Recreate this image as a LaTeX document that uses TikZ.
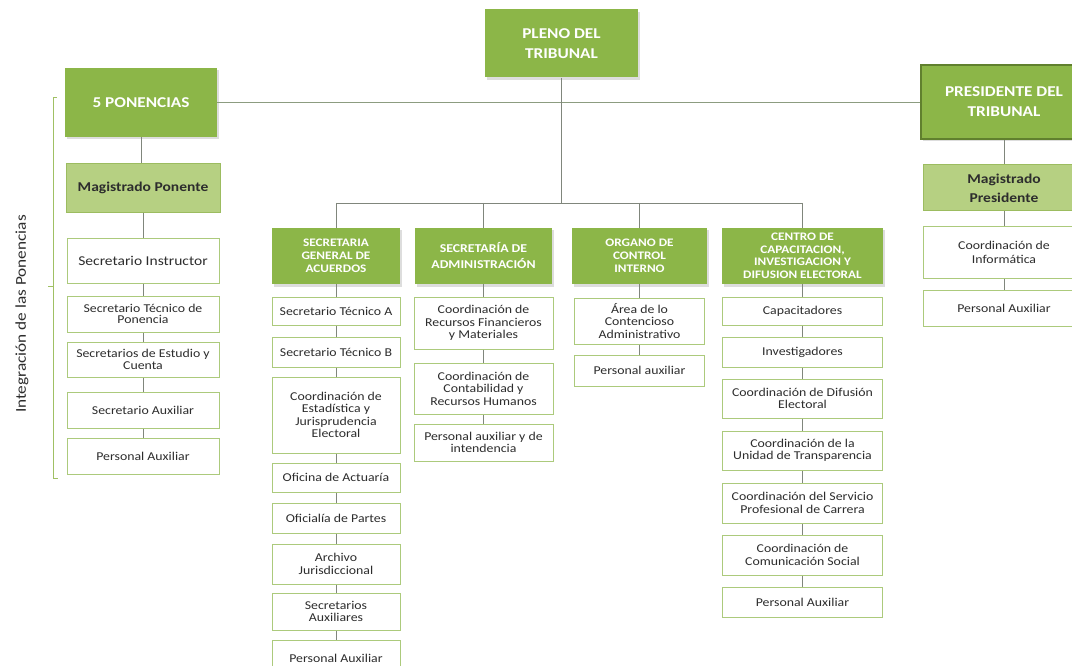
\documentclass[tikz,border=0pt]{standalone}
\usepackage{fontspec}
\setmainfont{Carlito}[FakeStretch=1.15]
\usetikzlibrary{shadows}
\definecolor{dkgreen}{RGB}{140,182,72}
\definecolor{ltgreen}{RGB}{182,208,130}
\definecolor{mgborder}{RGB}{156,188,96}
\definecolor{presborder}{RGB}{96,128,46}
\definecolor{wborder}{RGB}{172,202,124}
\definecolor{connc}{RGB}{128,134,124}
\definecolor{hlinec}{RGB}{140,156,128}
\definecolor{bracketc}{RGB}{160,192,100}
\definecolor{txtc}{RGB}{45,45,45}
\newcommand\myfs[2]{\fontsize{#1}{#2}\selectfont}
\begin{document}
\begin{tikzpicture}[x=1pt,y=-1pt,
  every node/.style={inner sep=0pt, align=center},
  softshadow/.style={drop shadow={shadow xshift=1.5pt, shadow yshift=-2.5pt, opacity=0.22, fill=black!60}},
  topbox/.style={fill=dkgreen, text=white, font=\bfseries\myfs{15}{20}, softshadow},
  colhdr/.style={fill=dkgreen, text=white, font=\bfseries\myfs{11.5}{13}, softshadow},
  magbox/.style={fill=ltgreen, draw=mgborder, line width=1pt, text=txtc, font=\bfseries\myfs{13.5}{19}},
  wbox/.style={fill=white, draw=wborder, line width=1pt, text=txtc, font=\myfs{12}{12.5}},
  conn/.style={draw=connc, line width=0.9pt},
  hline/.style={draw=hlinec, line width=1.3pt}
]
\useasboundingbox (0,0) rectangle (1072,666);
\fill[white] (0,0) rectangle (1072,666);

% top level
\node[topbox, minimum width=153, minimum height=68] (pleno) at (561.5,43.5) {PLENO DEL\\TRIBUNAL};
\node[topbox, minimum width=152, minimum height=69] (pon) at (141,102.5) {5 PONENCIAS};
\node[topbox, draw=presborder, line width=2.2pt, minimum width=166, minimum height=74] (pres) at (1004,102) {PRESIDENTE DEL\\TRIBUNAL};

% left column (ponencias)
\node[magbox, minimum width=154, minimum height=49] (magpon) at (143,188) {Magistrado Ponente};
\node[wbox, font=\myfs{13.5}{14}, minimum width=152, minimum height=44] (si) at (143,261) {Secretario Instructor};
\node[wbox, font=\myfs{12}{11.5}, minimum width=152, minimum height=36] (stp) at (143,314) {Secretario Técnico de\\Ponencia};
\node[wbox, font=\myfs{12}{11.5}, minimum width=152, minimum height=35] (sec) at (143,359.5) {Secretarios de Estudio y\\Cuenta};
\node[wbox, minimum width=152, minimum height=36] (saux) at (143,410) {Secretario Auxiliar};
\node[wbox, minimum width=152, minimum height=36] (pa1) at (143,456) {Personal Auxiliar};

% bracket and label
\coordinate (bt) at (53,98);
\coordinate (bb) at (53,478);
\coordinate (bm) at (53,286);
\draw[draw=bracketc, line width=1pt] ([xshift=4]bt) -- (bt) -- (bb) -- ([xshift=5]bb);
\draw[draw=bracketc, line width=1pt] (bm) -- ([xshift=-5]bm);
\node[rotate=90, text=txtc, font=\myfs{15}{18}] (lbl) at (22,314) {Integración de las Ponencias};

% column headers
\node[colhdr, minimum width=128, minimum height=56] (sga) at (336,256) {SECRETARIA\\GENERAL DE\\ACUERDOS};
\node[colhdr, font=\bfseries\myfs{12}{16}, minimum width=137, minimum height=56] (sadm) at (483.5,256) {SECRETARÍA DE\\ADMINISTRACIÓN};
\node[colhdr, minimum width=135, minimum height=56] (oci) at (639.5,256) {ORGANO DE\\CONTROL\\INTERNO};
\node[colhdr, font=\bfseries\myfs{11.5}{12.5}, minimum width=161, minimum height=56] (cc) at (802.5,256) {CENTRO DE\\CAPACITACION,\\INVESTIGACION Y\\DIFUSION ELECTORAL};

% Secretaria General de Acuerdos
\node[wbox, minimum width=128, minimum height=28] (sta) at (336,311) {Secretario Técnico A};
\node[wbox, minimum width=128, minimum height=30] (stb) at (336,352) {Secretario Técnico B};
\node[wbox, minimum width=128, minimum height=76] (cej) at (336,415) {Coordinación de\\Estadística y\\Jurisprudencia\\Electoral};
\node[wbox, minimum width=128, minimum height=29] (oa) at (336,477.5) {Oficina de Actuaría};
\node[wbox, minimum width=128, minimum height=30] (op) at (336,518) {Oficialía de Partes};
\node[wbox, minimum width=128, minimum height=40] (aj) at (336,564) {Archivo\\Jurisdiccional};
\node[wbox, minimum width=128, minimum height=37] (secx) at (336,611.5) {Secretarios\\Auxiliares};
\node[wbox, minimum width=128, minimum height=36] (pasg) at (336,658) {Personal Auxiliar};

% Secretaria de Administracion
\node[wbox, minimum width=139, minimum height=52] (crf) at (483.5,323) {Coordinación de\\Recursos Financieros\\y Materiales};
\node[wbox, minimum width=139, minimum height=51] (ccr) at (483.5,388.5) {Coordinación de\\Contabilidad y\\Recursos Humanos};
\node[wbox, minimum width=139, minimum height=37] (pai) at (483.5,442.5) {Personal auxiliar y de\\intendencia};

% Organo de Control Interno
\node[wbox, minimum width=130, minimum height=46] (acont) at (639.5,321) {Área de lo\\Contencioso\\Administrativo};
\node[wbox, minimum width=130, minimum height=31] (paoci) at (639.5,370.5) {Personal auxiliar};

% Centro de Capacitacion
\node[wbox, minimum width=160, minimum height=28] (cap) at (802.5,311) {Capacitadores};
\node[wbox, minimum width=160, minimum height=30] (inv) at (802.5,352) {Investigadores};
\node[wbox, minimum width=160, minimum height=39] (cde) at (802.5,398.5) {Coordinación de Difusión\\Electoral};
\node[wbox, minimum width=160, minimum height=39] (cut) at (802.5,450.5) {Coordinación de la\\Unidad de Transparencia};
\node[wbox, minimum width=160, minimum height=40] (csp) at (802.5,503) {Coordinación del Servicio\\Profesional de Carrera};
\node[wbox, minimum width=160, minimum height=40] (ccs) at (802.5,555) {Coordinación de\\Comunicación Social};
\node[wbox, minimum width=160, minimum height=30] (pacc) at (802.5,602) {Personal Auxiliar};

% Presidente column
\node[magbox, minimum width=162, minimum height=46] (magpres) at (1004,188) {Magistrado\\Presidente};
\node[wbox, font=\myfs{12}{14}, minimum width=162, minimum height=51] (cinf) at (1004,252.5) {Coordinación de\\Informática};
\node[wbox, minimum width=162, minimum height=36] (papres) at (1004,308) {Personal Auxiliar};

% connectors
\coordinate (busy) at (0,203);
\draw[hline] (pon.east) -- (pres.west |- pon.east);
\draw[conn] (pleno.south) -- (pleno.south |- busy);
\draw[conn] (sga.north |- busy) -- (cc.north |- busy);
\foreach \n in {sga,sadm,oci,cc} \draw[conn] (\n.north |- busy) -- (\n.north);
\draw[conn] (pon.south) -- (pon.south |- magpon.north);
\foreach \a/\b in {magpon/si, si/stp, stp/sec, sec/saux, saux/pa1,
  sga/sta, sta/stb, stb/cej, cej/oa, oa/op, op/aj, aj/secx, secx/pasg,
  sadm/crf, crf/ccr, ccr/pai,
  oci/acont, acont/paoci,
  cc/cap, cap/inv, inv/cde, cde/cut, cut/csp, csp/ccs, ccs/pacc,
  pres/magpres, magpres/cinf, cinf/papres}
  \draw[conn] (\a) -- (\b);
\end{tikzpicture}
\end{document}
